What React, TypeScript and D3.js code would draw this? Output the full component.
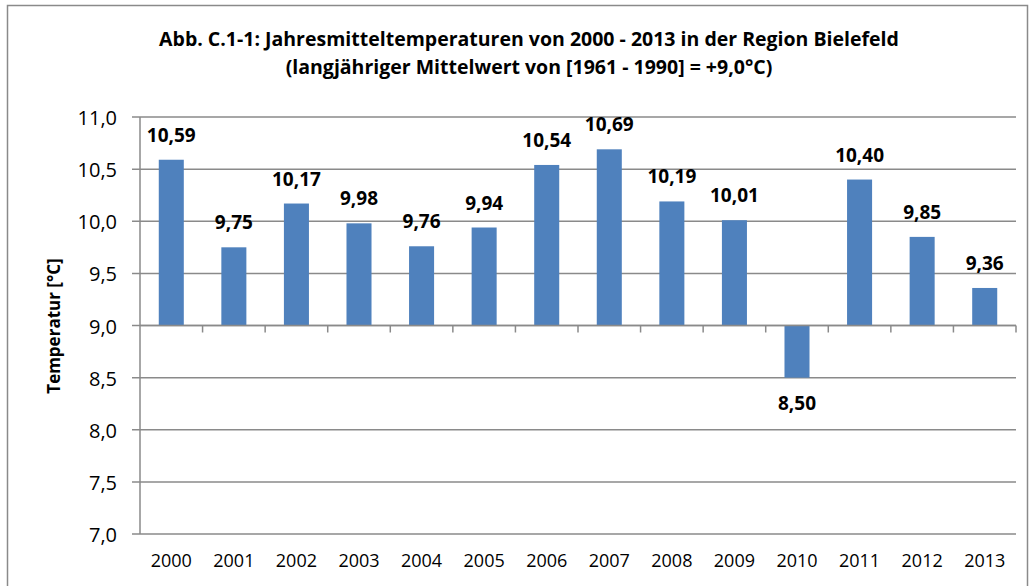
import React from "react";
import * as d3 from "d3";

const years = ["2000", "2001", "2002", "2003", "2004", "2005", "2006", "2007", "2008", "2009", "2010", "2011", "2012", "2013"];
const temps = [10.59, 9.75, 10.17, 9.98, 9.76, 9.94, 10.54, 10.69, 10.19, 10.01, 8.5, 10.4, 9.85, 9.36];
const yTicks = [7.0, 7.5, 8.0, 8.5, 9.0, 9.5, 10.0, 10.5, 11.0];
const titleLines = [
  "Abb. C.1-1: Jahresmitteltemperaturen von 2000 - 2013 in der Region Bielefeld",
  "(langjähriger Mittelwert von [1961 - 1990] = +9,0°C)",
];
const baseline = 9.0;

const W = 1033;
const H = 586;
const left = 140;
const right = 1016;
const top = 117;
const bottom = 534;
const font = "'Open Sans', sans-serif";
const fmt = (v: number, d: number) => v.toFixed(d).replace(".", ",");

export default function App() {
  const x = d3.scaleBand<string>().domain(years).range([left, right]).paddingInner(0.6).paddingOuter(0.3);
  const xc = d3.scaleBand<string>().domain(years).range([left, right]);
  const y = d3.scaleLinear().domain([7, 11]).range([bottom, top]);
  const grid = "#8a8a8a";

  return (
    <svg width={W} height={H} style={{ position: "absolute", left: 0, top: 0, fontFamily: font }}>
      <rect x={7.5} y={5.5} width={1020} height={590} fill="#fff" stroke="#8a8a8a" strokeWidth={1.5} />
      {titleLines.map((t, i) => (
        <text key={i} x={529} y={46 + i * 28} textAnchor="middle" fontSize={19.5} fontWeight="bold" fill="#000">
          {t}
        </text>
      ))}
      {/* gridlines */}
      {yTicks.map((t) => (
        <g key={t}>
          <line x1={left - 8} x2={right} y1={y(t)} y2={y(t)} stroke={grid} strokeWidth={1.5} />
          <text x={left - 23} y={y(t) + 8} textAnchor="end" fontSize={20} fill="#000">
            {fmt(t, 1)}
          </text>
        </g>
      ))}
      <line x1={left} x2={left} y1={top} y2={bottom} stroke={grid} strokeWidth={1.5} />
      <text transform={`translate(60, 326) rotate(-90)`} textAnchor="middle" fontSize={17} fontWeight="bold">
        Temperatur [°C]
      </text>
      {/* bars */}
      {years.map((yr, i) => {
        const v = temps[i];
        const y0 = y(Math.max(v, baseline));
        const y1 = y(Math.min(v, baseline));
        const cx = (x(yr) as number) + x.bandwidth() / 2;
        return (
          <g key={yr}>
            <rect x={x(yr)} y={y0} width={x.bandwidth()} height={y1 - y0} fill="#4f81bd" />
            <text x={cx} y={v >= baseline ? y0 - 18 : y1 + 32} textAnchor="middle" fontSize={19} fontWeight="bold">
              {fmt(v, 2)}
            </text>
            <text x={(xc(yr) as number) + xc.bandwidth() / 2} y={567} textAnchor="middle" fontSize={18}>
              {yr}
            </text>
          </g>
        );
      })}
      {/* category axis at 9,0 */}
      <line x1={left} x2={right} y1={y(baseline)} y2={y(baseline)} stroke={grid} strokeWidth={1.5} />
      {years.map((yr) => (
        <line key={yr} x1={(xc(yr) as number) + xc.bandwidth()} x2={(xc(yr) as number) + xc.bandwidth()} y1={y(baseline)} y2={y(baseline) + 7} stroke={grid} strokeWidth={1.5} />
      ))}
    </svg>
  );
}
